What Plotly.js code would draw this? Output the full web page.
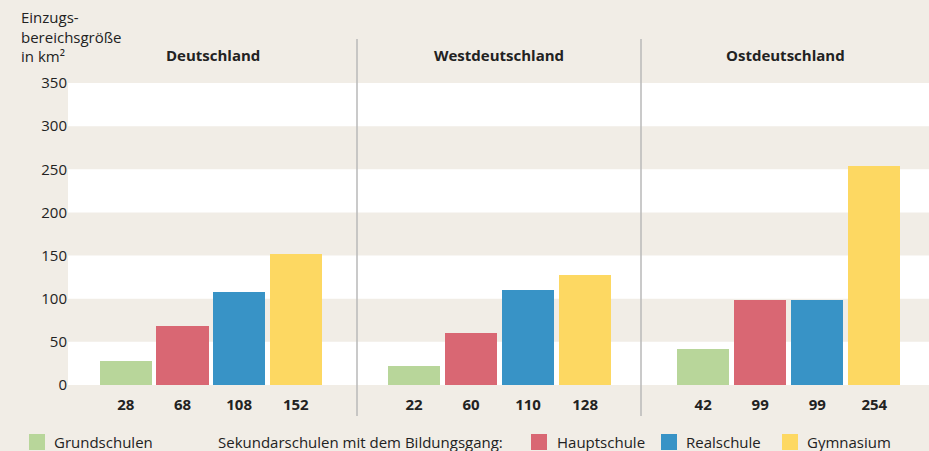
<!DOCTYPE html>
<html>
<head>
<meta charset="utf-8">
<script src="https://cdn.plot.ly/plotly-3.0.1.min.js"></script>
<style>
  html, body { margin: 0; padding: 0; background: #f1ede6; }
  #chart { width: 929px; height: 451px; }
</style>
</head>
<body>
<div id="chart"></div>
<script>
// ---- Data ----
const categories = ['Grundschulen', 'Hauptschule', 'Realschule', 'Gymnasium'];
const regions = ['Deutschland', 'Westdeutschland', 'Ostdeutschland'];
const deutschland = [28, 68, 108, 152];
const westdeutschland = [22, 60, 110, 128];
const ostdeutschland = [42, 99, 99, 254];
const yTicks = [0, 50, 100, 150, 200, 250, 300, 350];
const yTitle = 'Einzugs-<br>bereichsgröße<br>in km²';
const legendMiddleText = 'Sekundarschulen mit dem Bildungsgang:';

// ---- Styles ----
const colors = ['#b8d69a', '#d96773', '#3893c6', '#fdd862'];
const bg = '#f1ede6';
const textColor = '#222222';
const font = 'Open Sans, Noto Sans, sans-serif';

const W = 929, H = 451;
const margin = { l: 68, r: 0, t: 83, b: 66 };
const plotW = W - margin.l - margin.r;
const plotH = H - margin.t - margin.b;
const px = x => (x - margin.l) / plotW;           // pixel x -> paper x
const py = y => (H - margin.b - y) / plotH;        // pixel y -> paper y

const seriesByRegion = [deutschland, westdeutschland, ostdeutschland];
const domains = [[0, px(357)], [px(357), px(641)], [px(641), 1]];
const ranges = [[-1.02, 4.08], [-1.0, 3.98], [-1.09, 3.96]];
const axisNames = ['x', 'x2', 'x3'];

const traces = seriesByRegion.map((vals, i) => ({
  type: 'bar',
  x: categories,
  y: vals,
  xaxis: axisNames[i],
  yaxis: 'y',
  width: 0.92,
  marker: { color: colors, line: { width: 0 } },
  showlegend: false,
  name: regions[i],
  hovertemplate: '%{x}: %{y}<extra>' + regions[i] + '</extra>'
}));

const layout = {
  width: W, height: H,
  margin: margin,
  paper_bgcolor: bg,
  plot_bgcolor: bg,
  bargap: 0,
  font: { family: font, size: 15, color: textColor },
  showlegend: false,
  yaxis: {
    range: [0, 350],
    tickvals: yTicks,
    ticktext: yTicks.map(String),
    showgrid: false, zeroline: false, showline: false,
    ticks: '', tickfont: { size: 15, color: textColor },
    fixedrange: true
  },
  shapes: [],
  annotations: []
};

seriesByRegion.forEach((vals, i) => {
  const key = i === 0 ? 'xaxis' : 'xaxis' + (i + 1);
  layout[key] = {
    domain: domains[i],
    anchor: 'y',
    type: 'category',
    range: ranges[i],
    tickvals: categories,
    ticktext: vals.map(String),
    tickfont: { size: 15, color: textColor, weight: 700 },
    ticks: 'outside', ticklen: 6, tickcolor: 'rgba(0,0,0,0)',
    showgrid: false, zeroline: false, showline: false,
    fixedrange: true
  };
  layout.annotations.push({
    text: regions[i], xref: 'paper', yref: 'paper',
    x: (domains[i][0] + domains[i][1]) / 2, y: py(55),
    xanchor: 'center', yanchor: 'middle', showarrow: false,
    font: { size: 15, color: textColor, weight: 700 }
  });
});

// alternating white bands
for (let k = 0; k < yTicks.length - 1; k += 2) {
  layout.shapes.push({
    type: 'rect', xref: 'paper', yref: 'y', layer: 'below',
    x0: 0, x1: 1, y0: yTicks[k], y1: yTicks[k + 1],
    fillcolor: '#ffffff', line: { width: 0 }
  });
}

// panel dividers
[px(357), px(641)].forEach(x => {
  layout.shapes.push({
    type: 'line', xref: 'paper', yref: 'paper', layer: 'above',
    x0: x, x1: x, y0: py(416), y1: py(39),
    line: { color: '#b8b8b8', width: 1.5 }
  });
});

// y-axis title
layout.annotations.push({
  text: yTitle, xref: 'paper', yref: 'paper',
  x: px(19), y: py(5), xanchor: 'left', yanchor: 'top', align: 'left',
  showarrow: false, font: { size: 15, color: textColor }
});

// custom legend
const legendItems = [
  { sq: [29, 45], tx: 52, label: categories[0], color: colors[0] },
  { sq: [531, 547], tx: 555, label: categories[1], color: colors[1] },
  { sq: [661, 677], tx: 684, label: categories[2], color: colors[2] },
  { sq: [782, 798], tx: 805, label: categories[3], color: colors[3] }
];
legendItems.forEach(it => {
  layout.shapes.push({
    type: 'rect', xref: 'paper', yref: 'paper',
    x0: px(it.sq[0]), x1: px(it.sq[1]), y0: py(450), y1: py(434),
    fillcolor: it.color, line: { width: 0 }
  });
  layout.annotations.push({
    text: it.label, xref: 'paper', yref: 'paper',
    x: px(it.tx), y: py(442), xanchor: 'left', yanchor: 'middle',
    showarrow: false, font: { size: 15, color: textColor }
  });
});
layout.annotations.push({
  text: legendMiddleText, xref: 'paper', yref: 'paper',
  x: px(216), y: py(442), xanchor: 'left', yanchor: 'middle',
  showarrow: false, font: { size: 15, color: textColor }
});

Plotly.newPlot('chart', traces, layout, { displayModeBar: false, staticPlot: true });
</script>
</body>
</html>
